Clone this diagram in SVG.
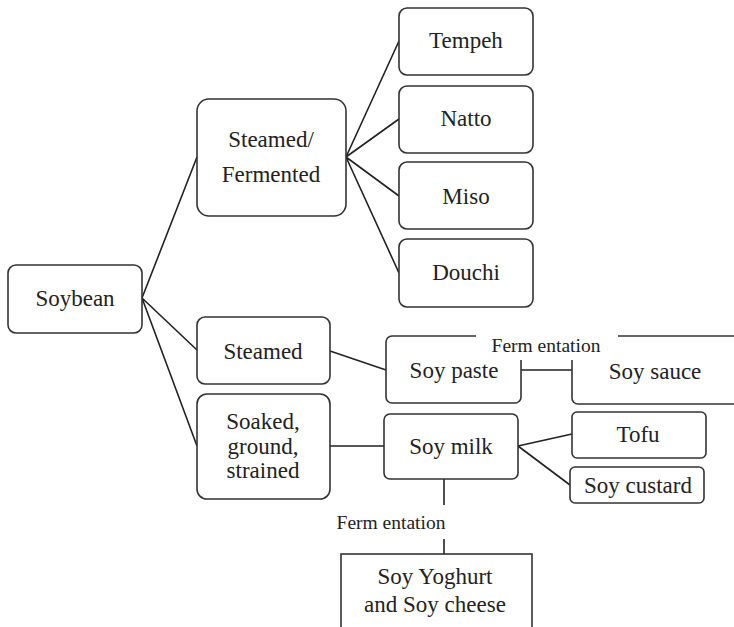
<svg xmlns="http://www.w3.org/2000/svg" width="734" height="627" viewBox="0 0 734 627">
<style>
.b{fill:#fff;stroke:#333;stroke-width:1.6}
.c{stroke:#222;stroke-width:1.6;fill:none}
text{font-family:"Liberation Serif","Times New Roman",serif;font-size:23px;fill:#222;text-anchor:middle}
.s{font-size:19.5px}
</style>
<rect width="734" height="627" fill="#fff"/>
<g id="connectors">
<path class="c" d="M142 298L197 157M142 298L197 350M142 298L197 446"/>
<path class="c" d="M346 157L399 41M346 157L399 119M346 157L399 196M346 157L399 273"/>
<path class="c" d="M330 351L386 370M330 446L384 446M521 370L572 370"/>
<path class="c" d="M518 446L572 434M518 446L570 485"/>
<path class="c" d="M444 479L444 505M444 539L444 554"/>
</g>
<g id="soybean"><rect class="b" x="8" y="265" width="134" height="68" rx="8"/><text x="75" y="306">Soybean</text></g>
<g id="steamed-fermented"><rect class="b" x="197" y="99" width="149" height="117" rx="12"/><text x="271" y="147">Steamed/</text><text x="271" y="182">Fermented</text></g>
<g id="tempeh"><rect class="b" x="399" y="8" width="134" height="67" rx="8"/><text x="466" y="48">Tempeh</text></g>
<g id="natto"><rect class="b" x="399" y="86" width="134" height="67" rx="8"/><text x="466" y="126">Natto</text></g>
<g id="miso"><rect class="b" x="399" y="162" width="134" height="67" rx="8"/><text x="466" y="204">Miso</text></g>
<g id="douchi"><rect class="b" x="399" y="239" width="134" height="68" rx="8"/><text x="466" y="280">Douchi</text></g>
<g id="steamed"><rect class="b" x="197" y="317" width="133" height="67" rx="8"/><text x="263" y="359">Steamed</text></g>
<g id="soaked"><rect class="b" x="197" y="394" width="133" height="105" rx="10"/><text x="263" y="429">Soaked,</text><text x="263" y="454">ground,</text><text x="263" y="478">strained</text></g>
<g id="soy-paste"><rect class="b" x="386" y="336" width="135" height="67" rx="6"/><text x="454" y="378">Soy paste</text></g>
<g id="soy-sauce"><rect class="b" x="572" y="336" width="200" height="68" rx="6"/><text x="655" y="379">Soy sauce</text></g>
<g id="fermentation-1"><rect x="476" y="328" width="142" height="32" fill="#fff"/><text class="s" x="546" y="352">Ferm entation</text></g>
<g id="soy-milk"><rect class="b" x="384" y="414" width="134" height="65" rx="6"/><text x="451" y="454">Soy milk</text></g>
<g id="tofu"><rect class="b" x="572" y="412" width="134" height="46" rx="5"/><text x="638" y="442">Tofu</text></g>
<g id="soy-custard"><rect class="b" x="570" y="467" width="134" height="36" rx="5"/><text x="638" y="493">Soy custard</text></g>
<g id="fermentation-2"><text class="s" x="391" y="529">Ferm entation</text></g>
<g id="soy-yoghurt"><rect class="b" x="341" y="554" width="191" height="100"/><text x="435" y="584">Soy Yoghurt</text><text x="435" y="612">and Soy cheese</text></g>
</svg>
